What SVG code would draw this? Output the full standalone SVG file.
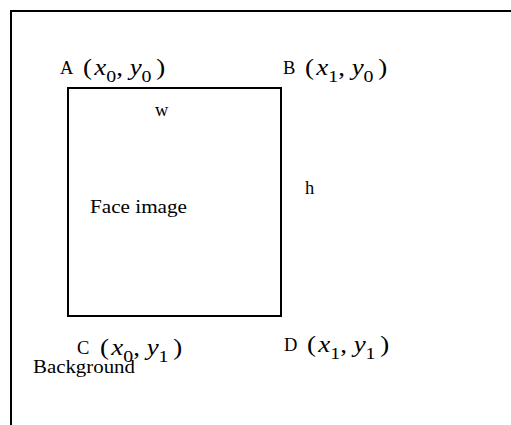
<svg xmlns="http://www.w3.org/2000/svg" width="511" height="425" viewBox="0 0 511 425">
<style>
.t{font-family:"Liberation Serif","Times New Roman",serif;font-size:18.5px;fill:#000}
.m{font-family:"Liberation Serif","Times New Roman",serif;font-size:23px;fill:#000}
.i{font-style:italic}
.s{font-size:17px}
.ln{fill:none;stroke:#000;stroke-width:2}
</style>
<rect width="511" height="425" fill="#fff"/>
<g id="background">
<path class="ln" d="M11,425 V11 H511"/>
<text class="t" x="33" y="373" textLength="102" lengthAdjust="spacingAndGlyphs">Background</text>
</g>
<g id="face">
<rect class="ln" x="68" y="88" width="213" height="228"/>
<text class="t" x="90" y="213" textLength="97" lengthAdjust="spacingAndGlyphs">Face image</text>
<text class="t" x="155" y="116">w</text>
<text class="t" x="305" y="194">h</text>
</g>
<g id="A">
<text class="t" x="60" y="74">A</text>
<text class="m" transform="translate(83,75) scale(1.17,1)">(<tspan class="i" dx="2">x</tspan><tspan class="s" dy="7">0</tspan><tspan dy="-7">, </tspan><tspan class="i">y</tspan><tspan class="s" dy="7">0</tspan><tspan dx="4" dy="-7">)</tspan></text>
</g>
<g id="B">
<text class="t" x="283" y="74">B</text>
<text class="m" transform="translate(305,75) scale(1.17,1)">(<tspan class="i" dx="2">x</tspan><tspan class="s" dy="7">1</tspan><tspan dy="-7">, </tspan><tspan class="i">y</tspan><tspan class="s" dy="7">0</tspan><tspan dx="4" dy="-7">)</tspan></text>
</g>
<g id="C">
<text class="t" x="77" y="354">C</text>
<text class="m" transform="translate(100,355) scale(1.17,1)">(<tspan class="i" dx="2">x</tspan><tspan class="s" dy="7">0</tspan><tspan dy="-7">, </tspan><tspan class="i">y</tspan><tspan class="s" dy="7">1</tspan><tspan dx="4" dy="-7">)</tspan></text>
</g>
<g id="D">
<text class="t" x="284" y="351">D</text>
<text class="m" transform="translate(307,352) scale(1.17,1)">(<tspan class="i" dx="2">x</tspan><tspan class="s" dy="7">1</tspan><tspan dy="-7">, </tspan><tspan class="i">y</tspan><tspan class="s" dy="7">1</tspan><tspan dx="4" dy="-7">)</tspan></text>
</g>
</svg>
